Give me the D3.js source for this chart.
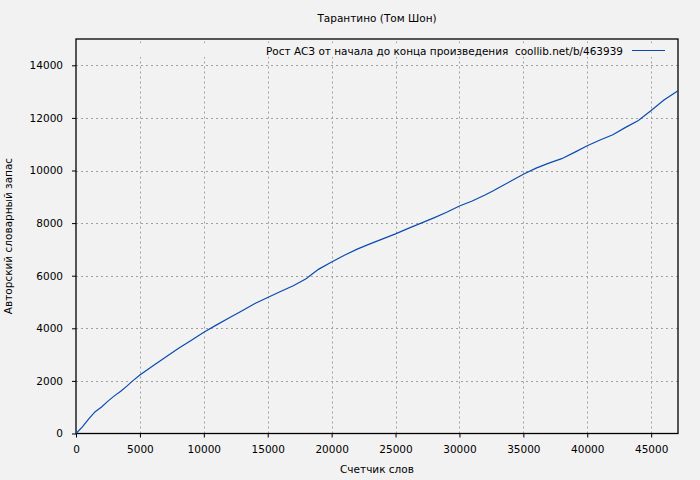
<!DOCTYPE html>
<html><head><meta charset="utf-8">
<script src="https://cdn.jsdelivr.net/npm/d3@7/dist/d3.min.js"></script>
<style>
html,body{margin:0;padding:0;background:#f2f2f2;}
svg{display:block;font-family:"DejaVu Sans",sans-serif;}
</style></head>
<body>
<script>
const title = "Тарантино (Том Шон)";
const legendLabel = "Рост АСЗ от начала до конца произведения  coollib.net/b/463939";
const xLabel = "Счетчик слов";
const yLabel = "Авторский словарный запас";
const xTicks = [0,5000,10000,15000,20000,25000,30000,35000,40000,45000];
const yTicks = [0,2000,4000,6000,8000,10000,12000,14000];
const words = [0,500,1000,1500,2000,2500,3000,3500,4000,4435,5000,6000,7000,8000,9000,10000,11000,12000,13000,14000,15000,16000,17000,18000,18300,19000,20000,21000,22000,23000,24000,25000,26000,27000,28000,29000,30000,31000,32000,32650,33000,34000,35000,36000,37000,38000,39000,40000,41000,42000,43000,44000,45000,46000,47100];
const vocab = [0,250,560,830,1010,1230,1430,1610,1810,2000,2225,2570,2900,3230,3540,3850,4130,4400,4670,4940,5170,5400,5620,5880,6000,6250,6520,6780,7010,7210,7400,7590,7800,8000,8200,8410,8650,8840,9070,9230,9325,9590,9855,10090,10280,10450,10690,10940,11160,11360,11640,11900,12280,12680,13035];

const W=700,H=480;
const L=76,R=678,T=39,B=433.5;
const svg=d3.select("body").append("svg").attr("width",W).attr("height",H);
svg.append("rect").attr("width",W).attr("height",H).attr("fill","#f2f2f2");
const x=d3.scaleLinear().domain([0,47100]).range([L,R]);
const y=d3.scaleLinear().domain([0,15000]).range([B,T]);

// grid
const grid=svg.append("g").attr("stroke","#a0a0a0").attr("stroke-width",1).attr("stroke-dasharray","2,3");
grid.selectAll(".gx").data(xTicks.slice(1)).join("line")
  .attr("x1",d=>Math.round(x(d))+0.5).attr("x2",d=>Math.round(x(d))+0.5)
  .attr("y1",B).attr("y2",T);
grid.selectAll(".gy").data(yTicks.slice(1)).join("line")
  .attr("y1",d=>Math.round(y(d))+0.5).attr("y2",d=>Math.round(y(d))+0.5)
  .attr("x1",L).attr("x2",R);

// legend blanking area
svg.append("rect").attr("x",L+1).attr("y",43).attr("width",R-L-2).attr("height",14).attr("fill","#f2f2f2");

// axes
const fs="10.5px";
const xAxis=d3.axisBottom(x).tickValues(xTicks).tickSize(4).tickFormat(d3.format("d"));
const gx=svg.append("g").attr("transform",`translate(0,${B})`).call(xAxis);
gx.select(".domain").remove();
gx.selectAll("text").attr("font-size",fs).attr("font-family","DejaVu Sans").attr("fill","#000").attr("dy","1.15em");
const yAxis=d3.axisLeft(y).tickValues(yTicks).tickSize(4).tickFormat(d3.format("d"));
const gy=svg.append("g").attr("transform",`translate(${L},0)`).call(yAxis);
gy.select(".domain").remove();
gy.selectAll("text").attr("font-size",fs).attr("font-family","DejaVu Sans").attr("fill","#000").attr("x",-13);

// frame
svg.append("rect").attr("x",L).attr("y",T).attr("width",R-L).attr("height",B-T)
  .attr("fill","none").attr("stroke","#000").attr("stroke-width",1.3);

// line
svg.append("path").datum(words.map((w,i)=>[w,vocab[i]]))
  .attr("fill","none").attr("stroke","#0a4bb0").attr("stroke-width",1.2)
  .attr("d",d3.line().x(d=>x(d[0])).y(d=>y(d[1])));

// title & labels
svg.append("text").attr("x",377).attr("y",22).attr("text-anchor","middle").attr("font-size",fs).text(title);
svg.append("text").attr("x",377).attr("y",473).attr("text-anchor","middle").attr("font-size",fs).text(xLabel);
svg.append("text").attr("transform","translate(12,236) rotate(-90)").attr("text-anchor","middle").attr("font-size",fs).text(yLabel);

// legend
svg.append("text").attr("x",623).attr("y",54.5).attr("text-anchor","end").attr("font-size",fs)
  .attr("textLength",357).attr("lengthAdjust","spacingAndGlyphs").attr("xml:space","preserve").text(legendLabel);
svg.append("line").attr("x1",632).attr("x2",665).attr("y1",50.5).attr("y2",50.5).attr("stroke","#0a4bb0").attr("stroke-width",1.2);
</script>
</body></html>
